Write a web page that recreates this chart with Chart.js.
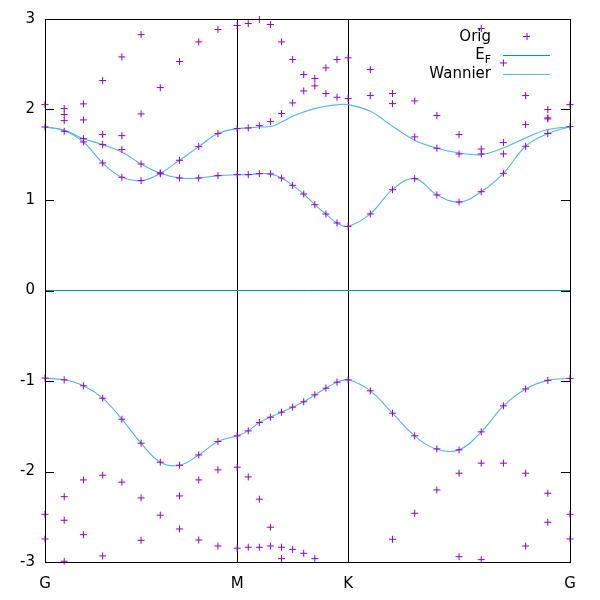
<!DOCTYPE html>
<html>
<head>
<meta charset="utf-8">
<script src="https://cdn.jsdelivr.net/npm/chart.js@4/dist/chart.umd.min.js"></script>
<style>
  body { margin: 0; background: #fff; }
  canvas { display: block; }
</style>
</head>
<body>
<canvas id="bands" width="600" height="600"></canvas>
<script>
// k-path positions (G-M-K-G), one entry per k-point
const kx = [0, 0.0866, 0.1732, 0.2598, 0.3464, 0.433, 0.5196, 0.6062, 0.6928, 0.7794, 0.866,
            0.916, 0.966, 1.016, 1.066, 1.116, 1.166, 1.216, 1.266, 1.316, 1.366,
            1.466, 1.566, 1.666, 1.766, 1.866, 1.966, 2.066, 2.166, 2.266, 2.366];
const tickPos = [0, 0.866, 1.366, 2.366];
const tickLabels = ['G', 'M', 'K', 'G'];
const yTicks = [-3, -2, -1, 0, 1, 2, 3];

// original (DFT) energies, split into rows, null = outside the window
const orig1 = [2.054, 2.010, 2.062, 2.320, 2.581, 2.828, 2.242, 2.530, 2.747, 2.884, 2.928, 2.950, 2.995, 2.939, 2.747, 2.552, 2.386, 2.342, 2.460, 2.552, 2.571, 2.441, 2.176, 2.095, 1.933, 1.723, 2.895, 2.514, 2.154, 1.999, 2.054];
const orig2 = [1.807, 1.944, 1.885, 1.723, 1.711, 1.951, 1.300, 1.439, 1.590, 1.734, 1.789, 1.796, 1.822, 1.866, 1.955, 2.073, 2.205, 2.261, 2.176, 2.135, 2.121, 2.154, 2.065, 1.697, 1.572, 1.509, 1.564, 1.634, 1.833, 1.907, 1.811];
const orig3 = [null, 1.877, 1.678, 1.612, 1.557, 1.398, 1.290, 1.243, 1.243, 1.269, 1.280, 1.280, 1.291, 1.288, 1.243, 1.162, 1.066, 0.948, 0.845, 0.746, 0.709, 0.846, 1.114, 1.236, 1.056, 0.978, 1.509, 1.509, 1.594, 1.896, null];
const orig4 = [null, 1.759, 1.641, 1.409, 1.251, 1.214, null, null, null, null, null, null, null, null, null, null, null, null, null, null, null, null, null, null, null, null, 1.092, 1.295, null, 1.734, null];
const orig5 = [-0.967, -0.987, -1.053, -1.190, -1.422, -1.687, -1.897, -1.931, -1.817, -1.669, -1.606, -1.551, -1.459, -1.400, -1.345, -1.289, -1.230, -1.153, -1.079, -1.013, -0.987, -1.109, -1.356, -1.606, -1.750, -1.761, -1.562, -1.275, -1.088, -0.993, -0.971];
const orig6 = [-2.473, -2.278, -2.093, -2.041, -2.118, -2.292, -2.483, -2.270, -2.093, -1.982, -1.953, -2.060, -2.306, -2.616, -2.837, -2.860, -2.904, -2.963, null, null, null, null, -2.749, -2.462, -2.204, -2.019, -1.908, -1.908, -2.019, -2.240, -2.473];
const orig7 = [-2.745, -2.539, -2.698, -2.933, null, -2.760, null, -2.635, -2.757, -2.823, -2.848, -2.837, -2.837, -2.823, -2.963, null, null, null, null, null, null, null, null, null, null, -2.941, -2.974, null, -2.823, -2.561, -2.745];
const orig8 = [null, -2.992, null, null, null, null, null, null, null, null, null, null, null, null, null, null, null, null, null, null, null, null, null, null, null, null, null, null, null, null, null];

// Wannier-interpolated bands
const wanVal = [-0.970, -0.987, -1.053, -1.190, -1.422, -1.687, -1.897, -1.931, -1.817, -1.669, -1.606, -1.551, -1.459, -1.400, -1.345, -1.289, -1.230, -1.153, -1.079, -1.013, -0.987, -1.109, -1.356, -1.606, -1.755, -1.761, -1.562, -1.275, -1.088, -0.993, -0.970];
const wanA = [1.807, 1.765, 1.641, 1.409, 1.251, 1.214, 1.295, 1.439, 1.590, 1.734, 1.789, 1.796, 1.807, 1.812, 1.862, 1.926, 1.973, 2.010, 2.036, 2.051, 2.054, 1.980, 1.815, 1.660, 1.572, 1.520, 1.501, 1.575, 1.686, 1.778, 1.811];
const wanB = [1.807, 1.772, 1.678, 1.612, 1.530, 1.398, 1.295, 1.243, 1.243, 1.269, 1.280, 1.280, 1.291, 1.288, 1.243, 1.162, 1.066, 0.948, 0.845, 0.746, 0.709, 0.846, 1.114, 1.236, 1.058, 0.978, 1.092, 1.295, 1.594, 1.734, 1.811];
const efX = [0, 2.366];
const efY = [0, 0];

const ORIG_COLOR = '#9400d3';
const EF_COLOR = '#009e73';
const WAN_COLOR = '#56b4e9';
const FONT = '"DejaVu Sans", sans-serif';

function pairs(xs, ys) {
  const out = [];
  ys.forEach((y, i) => { if (y !== null) out.push({x: xs[i], y: y}); });
  return out;
}

const origPoints = [orig1, orig2, orig3, orig4, orig5, orig6, orig7, orig8]
  .reduce((acc, row) => acc.concat(pairs(kx, row)), []);

function wanSet(ys) {
  return {
    type: 'line', data: pairs(kx, ys), borderColor: WAN_COLOR, borderWidth: 1.1,
    pointRadius: 0, tension: 0.4, fill: false
  };
}

// frame, inward y ticks
const framePlugin = {
  id: 'frame',
  afterDatasetsDraw(chart) {
    const ctx = chart.ctx, a = chart.chartArea, ys = chart.scales.y;
    ctx.save();
    ctx.strokeStyle = '#000';
    ctx.lineWidth = 1;
    ctx.strokeRect(Math.round(a.left) + 0.5, Math.round(a.top) + 0.5,
                   Math.round(a.right - a.left), Math.round(a.bottom - a.top));
    ctx.beginPath();
    yTicks.forEach(v => {
      const py = Math.round(ys.getPixelForValue(v)) + 0.5;
      ctx.moveTo(a.left, py); ctx.lineTo(a.left + 9, py);
      ctx.moveTo(a.right, py); ctx.lineTo(a.right - 9, py);
    });
    ctx.stroke();
    ctx.restore();
  }
};

// gnuplot-like key at top right
const keyPlugin = {
  id: 'key',
  afterDraw(chart) {
    const ctx = chart.ctx;
    const tx = 491, x0 = 503, x1 = 550, xm = (x0 + x1) / 2;
    ctx.save();
    ctx.fillStyle = '#000';
    ctx.textAlign = 'right';
    ctx.textBaseline = 'middle';
    ctx.font = '15px ' + FONT;
    ctx.fillText('Orig', tx, 37);
    ctx.fillText('Wannier', tx, 74);
    ctx.font = '11px ' + FONT;
    ctx.fillText('F', tx, 60);
    const fw = ctx.measureText('F').width;
    ctx.font = '15px ' + FONT;
    ctx.fillText('E', tx - fw, 55);

    ctx.lineWidth = 1;
    ctx.strokeStyle = ORIG_COLOR;
    ctx.beginPath();
    ctx.moveTo(xm - 3.5, 36.5); ctx.lineTo(xm + 3.5, 36.5);
    ctx.moveTo(xm + 0.5, 33); ctx.lineTo(xm + 0.5, 40);
    ctx.stroke();
    ctx.strokeStyle = EF_COLOR;
    ctx.beginPath(); ctx.moveTo(x0, 55.5); ctx.lineTo(x1, 55.5); ctx.stroke();
    ctx.strokeStyle = WAN_COLOR;
    ctx.beginPath(); ctx.moveTo(x0, 74.5); ctx.lineTo(x1, 74.5); ctx.stroke();
    ctx.restore();
  }
};

new Chart(document.getElementById('bands'), {
  type: 'scatter',
  data: {
    datasets: [
      {
        label: 'Orig', data: origPoints, pointStyle: 'cross', pointRadius: 3.5,
        borderColor: ORIG_COLOR, backgroundColor: ORIG_COLOR, pointBorderWidth: 1, clip: false
      },
      {
        type: 'line', label: 'E_F', data: pairs(efX, efY), borderColor: EF_COLOR,
        borderWidth: 1, pointRadius: 0
      },
      wanSet(wanVal),
      wanSet(wanA),
      wanSet(wanB)
    ]
  },
  options: {
    responsive: false,
    animation: false,
    layout: { padding: { top: 19, right: 30, left: 0, bottom: 0 } },
    plugins: { legend: { display: false }, tooltip: { enabled: false } },
    scales: {
      x: {
        type: 'linear', min: 0, max: 2.366,
        afterBuildTicks: s => { s.ticks = tickPos.map(v => ({value: v})); },
        afterFit: s => { s.height = 38; },
        ticks: {
          autoSkip: false, maxRotation: 0, padding: 13, color: '#000',
          font: { family: FONT, size: 15 },
          callback: (v, i) => tickLabels[i]
        },
        grid: { color: '#000', lineWidth: 1, drawTicks: false },
        border: { display: false }
      },
      y: {
        min: -3, max: 3,
        afterBuildTicks: s => { s.ticks = yTicks.map(v => ({value: v})); },
        afterFit: s => { s.width = 45; },
        ticks: {
          padding: 10, color: '#000', font: { family: FONT, size: 15 },
          callback: v => String(v)
        },
        grid: { display: false, drawTicks: false },
        border: { display: false }
      }
    }
  },
  plugins: [framePlugin, keyPlugin]
});
</script>
</body>
</html>
